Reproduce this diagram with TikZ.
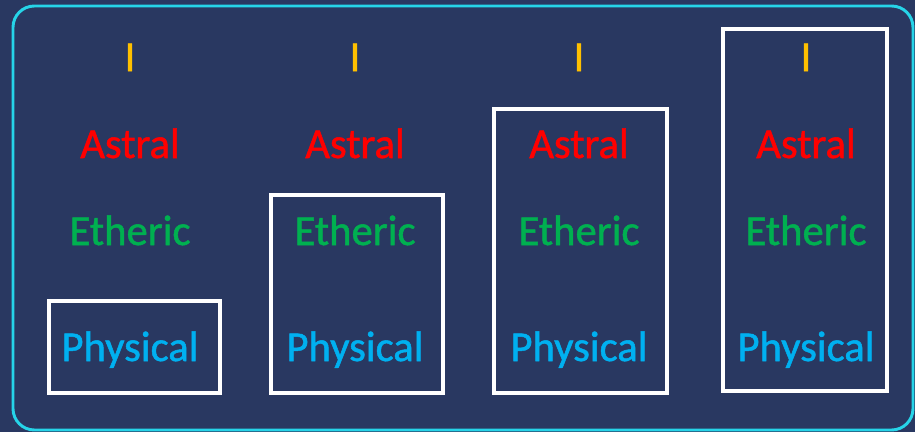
\documentclass[tikz,border=0pt]{standalone}
\usepackage{fontspec}
\setmainfont{Carlito}[UprightFeatures={FakeBold=1.2}]
\usetikzlibrary{positioning}

\definecolor{navy}{RGB}{41,56,97}
\definecolor{rim}{RGB}{38,212,232}
\definecolor{astralred}{RGB}{255,0,0}
\definecolor{ethericgreen}{RGB}{0,176,80}
\definecolor{physicalblue}{RGB}{0,176,240}
\definecolor{selforange}{RGB}{255,192,0}

\begin{document}
\begin{tikzpicture}[x=0.75pt,y=-0.75pt,
	layer/.style={anchor=base,inner sep=0pt,font=\fontsize{32}{36}\selectfont},
	self/.style={layer,text=selforange},
	astral/.style={layer,text=astralred},
	etheric/.style={layer,text=ethericgreen},
	physical/.style={layer,text=physicalblue},
	layerbox/.style={draw=white,line width=2.3pt}]
	\fill[navy] (0,0) rectangle (915,432);
	\useasboundingbox (0,0) rectangle (915,432);
	\draw[rim,line width=2.2pt,rounded corners=16pt] (13,6) rectangle (913,430);

	\node[self] (i1) at (130,71) {I};
	\node[astral] (a1) at (130,158) {Astral};
	\node[etheric] (e1) at (130,245) {Etheric};
	\node[physical] (p1) at (130,361) {Physical};

	\node[self] (i2) at (355,71) {I};
	\node[astral] (a2) at (355,158) {Astral};
	\node[etheric] (e2) at (355,245) {Etheric};
	\node[physical] (p2) at (355,361) {Physical};

	\node[self] (i3) at (579,71) {I};
	\node[astral] (a3) at (579,158) {Astral};
	\node[etheric] (e3) at (579,245) {Etheric};
	\node[physical] (p3) at (579,361) {Physical};

	\node[self] (i4) at (806,71) {I};
	\node[astral] (a4) at (806,158) {Astral};
	\node[etheric] (e4) at (806,245) {Etheric};
	\node[physical] (p4) at (806,361) {Physical};

	\draw[layerbox] (49,301) rectangle (220,393);
	\draw[layerbox] (271,195) rectangle (443,393);
	\draw[layerbox] (494,109) rectangle (667,393);
	\draw[layerbox] (723,29) rectangle (887,391);
\end{tikzpicture}
\end{document}
